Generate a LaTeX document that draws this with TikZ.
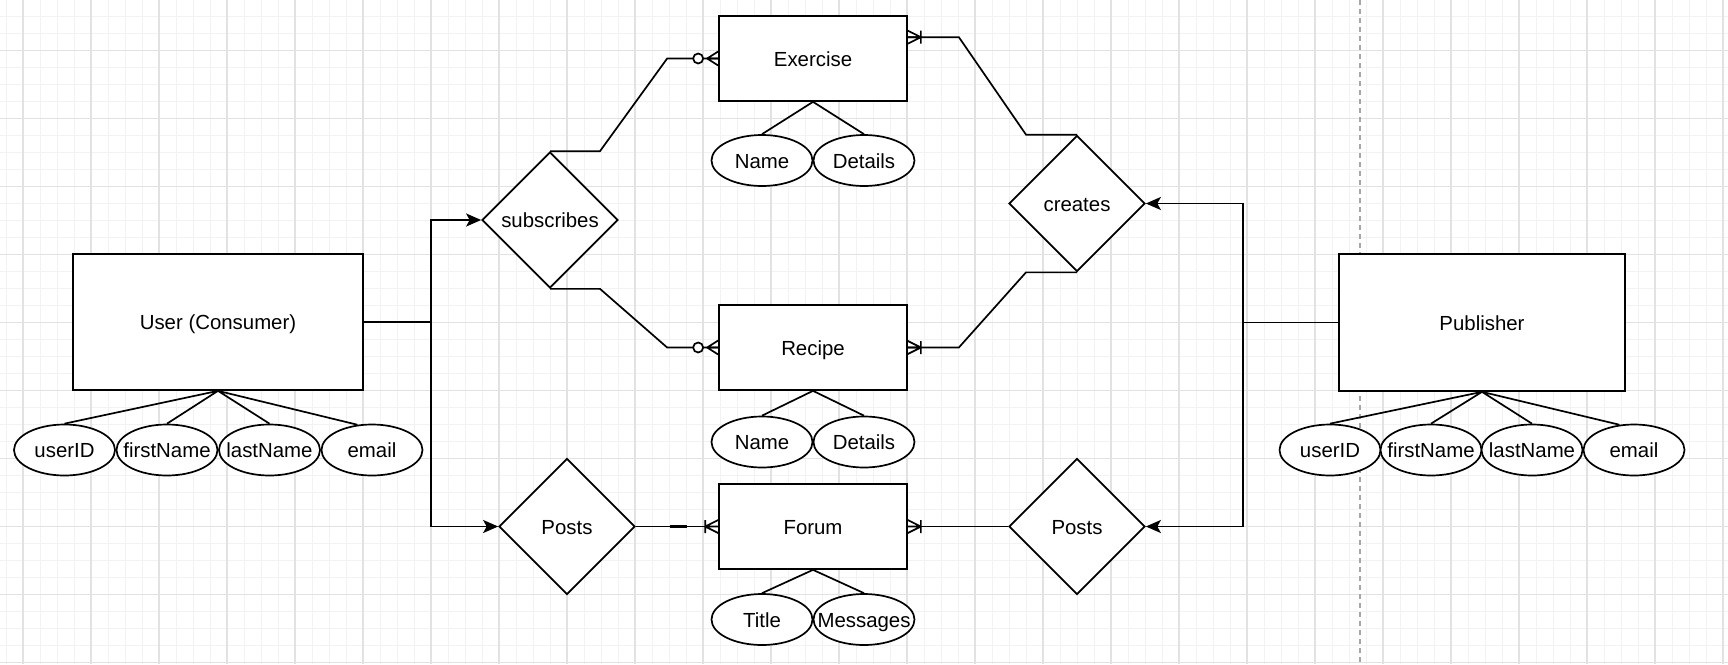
\documentclass[tikz,border=0pt]{standalone}
\usepackage{fontspec}
\setmainfont{Liberation Sans}
\usetikzlibrary{shapes.geometric,arrows.meta,calc}

\tikzset{
  ln/.style={line width=1.7pt},
  arr/.style={ln, -{Stealth[length=15pt,width=13pt,inset=3.5pt]}},
  txt/.style={text height=15.5pt, text depth=0.5pt},
  ent/.style={draw, ln, txt, fill=white, inner sep=0pt, minimum width=188pt, minimum height=85pt},
  rel/.style={draw, ln, txt, diamond, fill=white, inner sep=0pt, minimum width=136pt, minimum height=136pt},
  attr/.style={draw, ln, txt, ellipse, fill=white, inner sep=0pt, minimum width=101pt, minimum height=51pt},
  mingrid/.style={gray!10, line width=1pt},
  majgrid/.style={gray!23, line width=1.3pt},
  pics/zeromany/.style={code={
    \draw[ln] (0,7)--(-11,0)--(0,-7) (-11,0)--(0,0);
    \draw[ln, fill=white] (-20,0) circle (5pt);}},
  pics/onemany/.style={code={
    \draw[ln] (0,6.5)--(-13,0)--(0,-6.5) (-13,0)--(0,0) (-13,-6.5)--(-13,6.5);}},
}

\begin{document}
\begin{tikzpicture}[x=1pt, y=-1pt, font=\fontsize{20.4}{24}\selectfont]
  \useasboundingbox[fill=white] (0,0) rectangle (1728,664);
  % grid
  \foreach \i in {0,...,101} \draw[mingrid] ({6+17*\i},0) -- ++(0,664);
  \foreach \i in {0,...,39} \draw[mingrid] (0,{-0.5+17*\i}) -- ++(1728,0);
  \foreach \i in {0,...,25} \draw[majgrid] ({23+68*\i},0) -- ++(0,664);
  \foreach \i in {0,...,9} \draw[majgrid] (0,{50.5+68*\i}) -- ++(1728,0);
  \draw[gray!70, line width=1.5pt, dash pattern=on 5pt off 4pt] (1360,0) -- (1360,664);

  % entities and relations
  \node[ent, minimum width=290pt, minimum height=136pt] (user) at (218,322) {User (Consumer)};
  \node[ent, minimum width=286pt, minimum height=137pt] (pub) at (1482,322.5) {Publisher};
  \node[ent] (exer) at (813,58.5) {Exercise};
  \node[ent] (recipe) at (813,347.5) {Recipe};
  \node[ent] (forum) at (813,526.5) {Forum};
  \node[rel] (subs) at (550,220) {subscribes};
  \node[rel] (creates) at (1077,203.5) {creates};
  \node[rel] (postsL) at (567,526.5) {Posts};
  \node[rel] (postsR) at (1077,526.5) {Posts};

  % attributes
  \foreach \n/\t/\x in {uid/userID/64.5, ufn/firstName/167, uln/lastName/269.5, uem/email/372}
    \node[attr] (\n) at (\x,450) {\makebox[0pt]{\t}};
  \foreach \n/\t/\x in {pid/userID/1330, pfn/firstName/1431, pln/lastName/1532, pem/email/1634}
    \node[attr] (\n) at (\x,450) {\makebox[0pt]{\t}};
  \foreach \n/\t/\x/\y in {exn/Name/762/160.5, exd/Details/864/160.5, ren/Name/762/442,
      red/Details/864/442, fot/Title/762/619.5, fom/Messages/864/619.5}
    \node[attr] (\n) at (\x,\y) {\makebox[0pt]{\t}};

  \draw[ln] (user.south) -- (uid.north) (user.south) -- (ufn.north)
    (user.south) -- (uln.north) (user.south) -- (uem.120);
  \draw[ln] (pub.south) -- (pid.north) (pub.south) -- (pfn.north)
    (pub.south) -- (pln.north) (pub.south) -- (pem.120);
  \draw[ln] (exn.north) -- (exer.south) -- (exd.north);
  \draw[ln] (ren.north) -- (recipe.south) -- (red.north);
  \draw[ln] (fot.north) -- (forum.south) -- (fom.north);

  % trunks
  \coordinate (ltrunk) at (431,322);
  \coordinate (rtrunk) at (1243,322.5);
  \draw[ln] (user.east) -- (ltrunk);
  \draw[arr] (ltrunk) |- (subs.west);
  \draw[arr] (ltrunk) |- (postsL.west);
  \draw[ln] (pub.west) -- (rtrunk);
  \draw[arr] (rtrunk) |- (creates.east);
  \draw[arr] (rtrunk) |- (postsR.east);

  % relationship lines
  \draw[ln] (subs.north) -- ++(50,0) -- ($(exer.west)+(-51,0)$) -- (exer.west);
  \pic at (exer.west) {zeromany};
  \draw[ln] (subs.south) -- ++(50,0) -- ($(recipe.west)+(-51,0)$) -- (recipe.west);
  \pic at (recipe.west) {zeromany};
  \draw[ln] (creates.north) -- ++(-51,0) -- ($(exer.north east)+(51,22)$) -- ($(exer.north east)+(0,22)$);
  \pic[xscale=-1] at ($(exer.north east)+(0,22)$) {onemany};
  \draw[ln] (creates.south) -- ++(-51,0) -- ($(recipe.east)+(51,0)$) -- (recipe.east);
  \pic[xscale=-1] at (recipe.east) {onemany};
  \draw[ln] (postsL.east) -- (forum.west);
  \draw[line width=3.4pt] ($(postsL.east)+(34,0)$) -- ++(17,0);
  \pic at (forum.west) {onemany};
  \draw[ln] (postsR.west) -- (forum.east);
  \pic[xscale=-1] at (forum.east) {onemany};
\end{tikzpicture}
\end{document}
